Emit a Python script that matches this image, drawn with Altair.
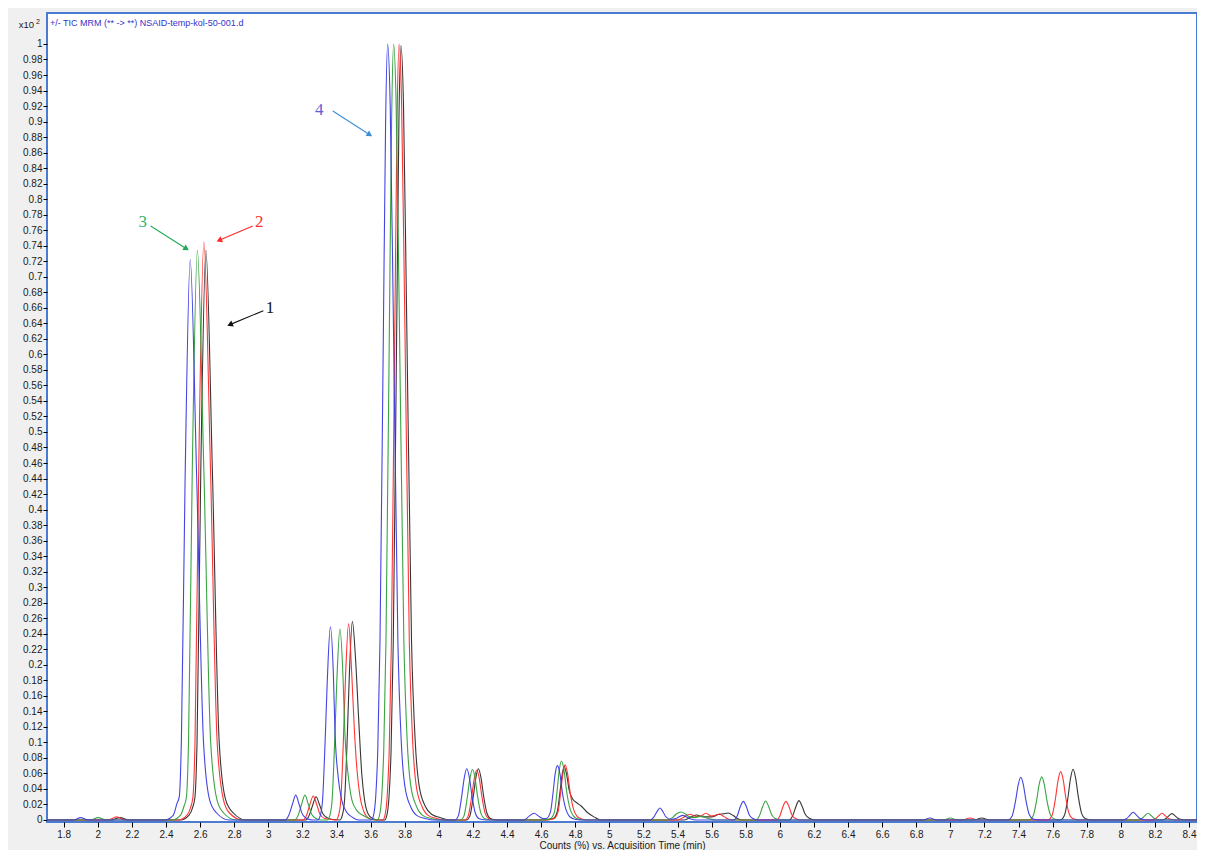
import math
import altair as alt
import pandas as pd

# ---------------- data ----------------
# (retention time [min], counts x10^2) points of each trace
BLUE = [
    (1.70, 0), (1.86, 0), (1.90, 0.003), (1.94, 0),
    (2.392, 0), (2.442, 0.006), (2.464, 0.021), (2.478, 0.03), (2.49, 0.10), (2.512, 0.44),
    (2.542, 0.722), (2.58, 0.44), (2.62, 0.10), (2.657, 0.025), (2.697, 0.009), (2.77, 0.0),
    (3.10, 0), (3.12, 0.006), (3.141, 0.02), (3.161, 0.032), (3.181, 0.02), (3.201, 0.007),
    (3.226, 0.002), (3.26, 0),
    (3.29, 0), (3.305, 0.006), (3.318, 0.025), (3.333, 0.10), (3.346, 0.18), (3.364, 0.249),
    (3.382, 0.185), (3.391, 0.115), (3.41, 0.055), (3.43, 0.026), (3.46, 0.01), (3.49, 0.004), (3.53, 0),
    (3.605, 0), (3.615, 0.004), (3.63, 0.03), (3.642, 0.09), (3.655, 0.23), (3.674, 0.61),
    (3.688, 0.90), (3.700, 1.0), (3.715, 0.92), (3.732, 0.67), (3.76, 0.23), (3.78, 0.10),
    (3.80, 0.045), (3.835, 0.017), (3.87, 0.006), (3.92, 0.002), (3.97, 0),
    (4.094, 0), (4.114, 0.005), (4.134, 0.03), (4.149, 0.054), (4.164, 0.066), (4.179, 0.055),
    (4.194, 0.032), (4.214, 0.009), (4.234, 0.002), (4.264, 0.0004), (4.294, 0),
    (4.50, 0), (4.53, 0.005), (4.558, 0.0086), (4.585, 0.005), (4.61, 0.002), (4.63, 0.002),
    (4.655, 0.0105), (4.67, 0.035), (4.683, 0.06), (4.695, 0.070), (4.71, 0.06), (4.725, 0.035),
    (4.745, 0.014), (4.765, 0.005), (4.785, 0.002), (4.815, 0.0004), (4.845, 0),
    (5.24, 0), (5.262, 0.004), (5.28, 0.011), (5.297, 0.0155), (5.314, 0.011), (5.332, 0.004),
    (5.36, 0.001), (5.39, 0.002), (5.43, 0.006), (5.47, 0.002), (5.51, 0),
    (5.73, 0), (5.75, 0.005), (5.768, 0.017), (5.786, 0.024), (5.804, 0.017), (5.822, 0.006),
    (5.845, 0.0015), (5.87, 0),
    (6.84, 0), (6.88, 0.0025), (6.92, 0),
    (7.338, 0), (7.363, 0.0055), (7.383, 0.025), (7.398, 0.045), (7.413, 0.055), (7.428, 0.046),
    (7.443, 0.026), (7.463, 0.007), (7.483, 0.0017), (7.513, 0.0002), (7.543, 0),
    (8.013, 0), (8.033, 0.0015), (8.053, 0.006), (8.073, 0.0099), (8.093, 0.006), (8.113, 0.0018),
    (8.14, 0.0003), (8.16, 0), (8.50, 0),
]

GREEN = [
    (1.70, 0), (1.96, 0), (2.0, 0.003), (2.05, 0),
    (2.434, 0), (2.484, 0.006), (2.506, 0.018), (2.52, 0.03), (2.532, 0.10), (2.554, 0.45),
    (2.584, 0.734), (2.622, 0.45), (2.662, 0.10), (2.70, 0.025), (2.738, 0.009), (2.81, 0),
    (3.155, 0), (3.175, 0.006), (3.195, 0.02), (3.215, 0.032), (3.235, 0.02), (3.255, 0.007),
    (3.28, 0.002), (3.31, 0),
    (3.346, 0), (3.361, 0.006), (3.374, 0.025), (3.389, 0.10), (3.402, 0.18), (3.42, 0.246),
    (3.438, 0.185), (3.449, 0.113), (3.47, 0.055), (3.49, 0.026), (3.52, 0.012), (3.555, 0.006),
    (3.60, 0.001),
    (3.64, 0), (3.65, 0.004), (3.665, 0.03), (3.677, 0.09), (3.69, 0.23), (3.709, 0.61),
    (3.723, 0.90), (3.735, 1.0), (3.75, 0.92), (3.767, 0.67), (3.795, 0.23), (3.815, 0.10),
    (3.835, 0.045), (3.87, 0.017), (3.905, 0.006), (3.955, 0.002), (4.005, 0),
    (4.127, 0), (4.147, 0.005), (4.167, 0.029), (4.182, 0.053), (4.197, 0.065), (4.212, 0.055),
    (4.227, 0.031), (4.247, 0.0085), (4.267, 0.002), (4.297, 0.0004), (4.327, 0),
    (4.60, 0), (4.654, 0.0015), (4.679, 0.011), (4.694, 0.038), (4.707, 0.065), (4.719, 0.076),
    (4.734, 0.065), (4.749, 0.038), (4.769, 0.015), (4.789, 0.0053), (4.809, 0.0019),
    (4.839, 0.0004), (4.869, 0),
    (5.34, 0), (5.37, 0.003), (5.395, 0.008), (5.419, 0.0103), (5.445, 0.008), (5.47, 0.004),
    (5.50, 0.003), (5.542, 0.005), (5.58, 0.002), (5.62, 0),
    (5.86, 0), (5.88, 0.005), (5.899, 0.017), (5.917, 0.0245), (5.935, 0.017), (5.954, 0.006),
    (5.977, 0.0015), (6.0, 0),
    (6.96, 0), (7.0, 0.0025), (7.04, 0),
    (7.461, 0), (7.486, 0.0055), (7.506, 0.025), (7.521, 0.0455), (7.536, 0.0555), (7.551, 0.046),
    (7.566, 0.026), (7.586, 0.0072), (7.606, 0.0017), (7.636, 0.0002), (7.666, 0),
    (8.10, 0), (8.12, 0.0013), (8.14, 0.0052), (8.16, 0.0086), (8.18, 0.0052), (8.20, 0.0015),
    (8.227, 0.0003), (8.25, 0), (8.50, 0),
]

RED = [
    (1.70, 0), (2.06, 0), (2.11, 0.004), (2.16, 0),
    (2.472, 0), (2.522, 0.006), (2.544, 0.016), (2.558, 0.03), (2.57, 0.10), (2.592, 0.455),
    (2.622, 0.745), (2.66, 0.46), (2.70, 0.10), (2.737, 0.026), (2.772, 0.009), (2.85, 0),
    (3.205, 0), (3.224, 0.006), (3.244, 0.02), (3.264, 0.031), (3.284, 0.02), (3.304, 0.007),
    (3.33, 0.002), (3.36, 0.001),
    (3.397, 0), (3.412, 0.006), (3.425, 0.025), (3.44, 0.10), (3.453, 0.185), (3.471, 0.253),
    (3.489, 0.19), (3.505, 0.115), (3.52, 0.065), (3.538, 0.03), (3.56, 0.011), (3.585, 0.003),
    (3.62, 0),
    (3.672, 0), (3.682, 0.004), (3.697, 0.03), (3.709, 0.09), (3.722, 0.23), (3.741, 0.61),
    (3.755, 0.90), (3.767, 1.0), (3.782, 0.92), (3.799, 0.67), (3.827, 0.23), (3.847, 0.10),
    (3.867, 0.045), (3.902, 0.017), (3.937, 0.006), (3.987, 0.002), (4.037, 0),
    (4.152, 0), (4.172, 0.005), (4.192, 0.029), (4.207, 0.052), (4.222, 0.064), (4.237, 0.054),
    (4.252, 0.031), (4.272, 0.0085), (4.292, 0.002), (4.322, 0.0004), (4.352, 0),
    (4.62, 0), (4.675, 0.0015), (4.70, 0.011), (4.715, 0.036), (4.728, 0.06), (4.740, 0.071),
    (4.755, 0.06), (4.770, 0.036), (4.79, 0.014), (4.81, 0.005), (4.83, 0.002), (4.86, 0.0004),
    (4.89, 0),
    (5.40, 0), (5.44, 0.004), (5.473, 0.0073), (5.51, 0.0045), (5.535, 0.005), (5.567, 0.0086),
    (5.60, 0.005), (5.62, 0.006), (5.645, 0.0077), (5.675, 0.004), (5.70, 0.001), (5.73, 0),
    (5.98, 0), (6.0, 0.005), (6.018, 0.017), (6.036, 0.024), (6.054, 0.017), (6.072, 0.006),
    (6.095, 0.0015), (6.12, 0),
    (7.07, 0), (7.115, 0.0025), (7.16, 0),
    (7.572, 0), (7.597, 0.0062), (7.617, 0.028), (7.632, 0.051), (7.647, 0.0623), (7.662, 0.052),
    (7.677, 0.029), (7.697, 0.008), (7.717, 0.0019), (7.747, 0.0002), (7.777, 0),
    (8.182, 0), (8.202, 0.0013), (8.222, 0.0052), (8.242, 0.0086), (8.262, 0.0052),
    (8.282, 0.0015), (8.31, 0.0003), (8.33, 0), (8.50, 0),
]

BLACK = [
    (1.70, 0), (2.08, 0), (2.13, 0.003), (2.18, 0),
    (2.484, 0), (2.534, 0.006), (2.556, 0.016), (2.57, 0.03), (2.582, 0.10), (2.604, 0.45),
    (2.634, 0.734), (2.672, 0.45), (2.712, 0.10), (2.75, 0.026), (2.795, 0.009), (2.87, 0),
    (3.22, 0), (3.24, 0.006), (3.26, 0.019), (3.28, 0.030), (3.30, 0.02), (3.32, 0.008),
    (3.345, 0.003), (3.37, 0.001),
    (3.419, 0), (3.434, 0.006), (3.447, 0.025), (3.462, 0.10), (3.475, 0.185), (3.493, 0.256),
    (3.511, 0.21), (3.53, 0.13), (3.548, 0.06), (3.565, 0.025), (3.585, 0.008), (3.61, 0.002),
    (3.65, 0),
    (3.683, 0), (3.693, 0.004), (3.708, 0.03), (3.72, 0.09), (3.733, 0.23), (3.752, 0.61),
    (3.766, 0.90), (3.778, 0.998), (3.793, 0.92), (3.81, 0.67), (3.84, 0.23), (3.862, 0.10),
    (3.884, 0.045), (3.922, 0.017), (3.96, 0.007), (4.01, 0.003), (4.06, 0),
    (4.162, 0), (4.182, 0.005), (4.202, 0.03), (4.217, 0.054), (4.232, 0.066), (4.247, 0.055),
    (4.262, 0.032), (4.282, 0.009), (4.302, 0.002), (4.332, 0.0004), (4.362, 0),
    (4.62, 0), (4.67, 0.0015), (4.695, 0.011), (4.71, 0.035), (4.723, 0.058), (4.735, 0.069),
    (4.75, 0.058), (4.765, 0.038), (4.785, 0.027), (4.81, 0.022), (4.835, 0.018), (4.87, 0.01),
    (4.91, 0.004), (4.95, 0),
    (5.44, 0), (5.48, 0.004), (5.513, 0.0064), (5.55, 0.004), (5.60, 0.004), (5.64, 0.007),
    (5.67, 0.008), (5.698, 0.009), (5.725, 0.006), (5.75, 0.002), (5.78, 0),
    (6.055, 0), (6.075, 0.005), (6.094, 0.017), (6.112, 0.025), (6.13, 0.018), (6.15, 0.007),
    (6.175, 0.002), (6.21, 0),
    (7.14, 0), (7.184, 0.0025), (7.23, 0),
    (7.645, 0), (7.67, 0.0065), (7.69, 0.029), (7.705, 0.0535), (7.72, 0.0653), (7.735, 0.054),
    (7.75, 0.031), (7.77, 0.0085), (7.79, 0.002), (7.82, 0.0003), (7.85, 0),
    (8.24, 0), (8.26, 0.0012), (8.28, 0.005), (8.30, 0.0082), (8.32, 0.005), (8.34, 0.0015),
    (8.367, 0.0003), (8.39, 0), (8.50, 0),
]

# drawing order: black first, blue on top
TRACES = [("black", BLACK, "#2b2b2b"), ("red", RED, "#ff2a2a"),
          ("green", GREEN, "#2f9e3a"), ("blue", BLUE, "#3a3ae0")]

# annotations: label, label pos (t, v), arrow start, arrow tip
ANN_LABELS = ["4", "3", "2", "1"]
ANN_TEXT_T = [3.299, 2.263, 2.947, 3.010]
ANN_TEXT_V = [0.915, 0.770, 0.770, 0.6594]
ANN_START_T = [3.378, 2.310, 2.9085, 2.971]
ANN_START_V = [0.9137, 0.7655, 0.7655, 0.6563]
ANN_TIP_T = [3.612, 2.537, 2.693, 2.756]
ANN_TIP_V = [0.8805, 0.7336, 0.7452, 0.6366]
ANN_LINE_COLORS = ["#3a8fd9", "#22aa5a", "#ff2b2b", "#111111"]
ANN_TEXT_COLORS = ["#6060d6", "#33b36b", "#ff3030", "#111111"]

X_TICKS = [round(1.8 + 0.2 * i, 1) for i in range(34)]
Y_TICKS = [round(0.02 * i, 2) for i in range(51)]

TITLE_TEXT = "+/- TIC MRM (** -> **) NSAID-temp-kol-50-001.d"
X_TITLE = "Counts (%) vs. Acquisition Time (min)"

# ---------------- layout ----------------
W, H = 1150, 809
X_DOMAIN = [1.702, 1.702 + W / 170.5]
Y_DOMAIN = [-0.0026, 1.0399]
PX_X = W / (X_DOMAIN[1] - X_DOMAIN[0])
PX_Y = H / (Y_DOMAIN[1] - Y_DOMAIN[0])
FONT = "Liberation Sans"

XS = alt.Scale(domain=X_DOMAIN, nice=False, zero=False)
YS = alt.Scale(domain=Y_DOMAIN, nice=False, zero=False)
XA = alt.Axis(values=X_TICKS, format="~g", title=X_TITLE, grid=False, domain=False,
              tickSize=5, tickColor="#000000", labelPadding=2, labelFontSize=10,
              labelFont=FONT, labelColor="#1a1a1a", labelOverlap=False, labelFlush=False,
              titleFont=FONT, titleFontSize=10, titleFontWeight="normal",
              titleColor="#1a1a1a", titlePadding=1)
YA = alt.Axis(values=Y_TICKS, format="~g", title=None, grid=False, domain=False,
              tickSize=4, tickColor="#000000", labelPadding=1, labelFontSize=10,
              labelFont=FONT, labelColor="#1a1a1a", labelOverlap=False, labelFlush=False)


def X(f):
    return alt.X(f, type="quantitative", scale=XS, axis=XA)


def Y(f):
    return alt.Y(f, type="quantitative", scale=YS, axis=YA)


layers = []
for name, pts, col in TRACES:
    df = pd.DataFrame(pts, columns=["t", "v"])
    layers.append(
        alt.Chart(df).mark_line(interpolate="monotone", color=col, strokeWidth=1.1,
                                clip=True, opacity=0.95)
        .encode(x=X("t"), y=Y("v"))
    )

# arrows
rows = []
for i in range(len(ANN_LABELS)):
    dx = (ANN_TIP_T[i] - ANN_START_T[i]) * PX_X
    dy = -(ANN_TIP_V[i] - ANN_START_V[i]) * PX_Y
    L = math.hypot(dx, dy)
    ux, uy = dx / L, dy / L
    ang = math.degrees(math.atan2(dy, dx)) % 360
    ht = ANN_TIP_T[i] - 3.5 * ux / PX_X
    hv = ANN_TIP_V[i] + 3.5 * uy / PX_Y
    rows.append(dict(x1=ANN_START_T[i], y1=ANN_START_V[i], x2=ht, y2=hv, ang=ang,
                     c=ANN_LINE_COLORS[i], tc=ANN_TEXT_COLORS[i], lab=ANN_LABELS[i],
                     tx=ANN_TEXT_T[i], ty=ANN_TEXT_V[i]))
ann = pd.DataFrame(rows)

arrow_lines = alt.Chart(ann).mark_rule(strokeWidth=1.1).encode(
    x=X("x1"), y=Y("y1"), x2="x2", y2="y2", color=alt.Color("c:N", scale=None))
arrow_heads = alt.Chart(ann).mark_point(shape="triangle-right", filled=True, size=42,
                                        opacity=1).encode(
    x=X("x2"), y=Y("y2"), angle=alt.Angle("ang:Q", scale=None),
    color=alt.Color("c:N", scale=None))
arrow_text = alt.Chart(ann).mark_text(font="Liberation Serif", fontSize=17,
                                      align="center", baseline="middle").encode(
    x=X("tx"), y=Y("ty"), text="lab:N", color=alt.Color("tc:N", scale=None))

one = pd.DataFrame({"a": [0]})
title_txt = alt.Chart(one).mark_text(text=TITLE_TEXT, font=FONT, fontSize=9, color="#3333cc",
                                     align="left", baseline="middle").encode(
    x=alt.value(3), y=alt.value(10))
x10_txt = alt.Chart(one).mark_text(text="x10", font=FONT, fontSize=9.5, color="#1a1a1a",
                                   align="right", baseline="middle").encode(
    x=alt.value(-13), y=alt.value(12))
exp_txt = alt.Chart(one).mark_text(text="2", font=FONT, fontSize=7, color="#1a1a1a",
                                   align="left", baseline="middle").encode(
    x=alt.value(-11), y=alt.value(9))

chart = alt.layer(*layers, arrow_lines, arrow_heads, arrow_text, title_txt, x10_txt,
                  exp_txt).properties(
    width=W, height=H,
    autosize=alt.AutoSizeParams(type="none"),
    padding={"left": 39, "top": 5, "right": 0, "bottom": 28},
    background="#f0f0f0",
).configure_view(stroke="#4a7bd0", strokeWidth=2, fill="white")

chart.save("out.html", embed_options={"renderer": "svg", "actions": False})
